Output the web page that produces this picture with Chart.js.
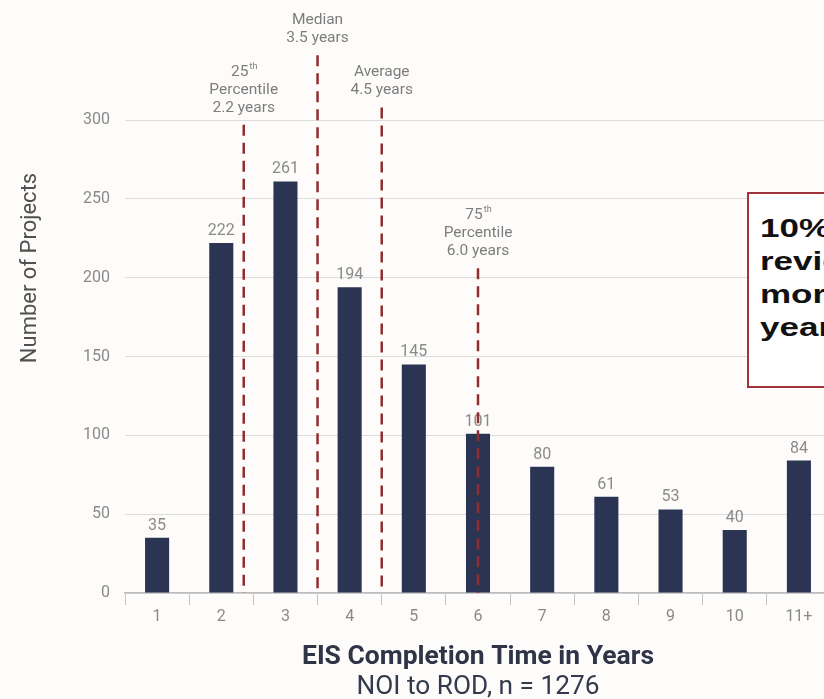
<!DOCTYPE html>
<html>
<head>
<meta charset="utf-8">
<title>EIS Completion Time</title>
<script src="https://cdn.jsdelivr.net/npm/chart.js@4.4.1/dist/chart.umd.min.js"></script>
<style>
  html, body { margin: 0; padding: 0; background: #fdfcfa; overflow: hidden; }
  #wrap { position: relative; width: 840px; height: 699px; }
  #note {
    position: absolute; left: 747px; top: 192px; width: 200px; height: 196px;
    box-sizing: border-box; border: 2px solid #a3333a; background: #fff;
    padding: 18px 0 0 11px; overflow: hidden;
  }
  #note span {
    display: block; white-space: nowrap; transform: scaleX(1.4); transform-origin: 0 0;
    font: bold 25px "Liberation Sans", Arial, sans-serif; line-height: 33px; color: #111;
  }
</style>
</head>
<body>
<div id="wrap">
  <canvas id="eisChart"></canvas>
  <div id="note"><span>10% of EIS<br>reviews took<br>more than 10<br>years</span></div>
</div>
<script>
// chart data
var yearLabels = ['1', '2', '3', '4', '5', '6', '7', '8', '9', '10', '11+'];
var projectCounts = [35, 222, 261, 194, 145, 101, 80, 61, 53, 40, 84];

// reference markers (position on the category scale, top of the dashed line in projects)
var markerNames = ['25th|Percentile', 'Median', 'Average', '75th|Percentile'];
var markerYears = ['2.2', '3.5', '4.5', '6.0'];
var markerAt = [1.35, 2.5, 3.5, 5.0];
var markerTop = [297, 341, 308, 206];

var xTitle = 'EIS Completion Time in Years';
var xSubtitle = 'NOI to ROD, n = 1276';
var yTitle = 'Number of Projects';

var BAR = '#2b3553';
var MARK = '#8f2d30';
var GREY = '#8a8a8a';

function fitText(ctx, text, cx, cy, width) {
    var w = ctx.measureText(text).width;
    ctx.save();
    ctx.translate(cx, cy);
    ctx.scale(width / w, 1);
    ctx.fillText(text, 0, 0);
    ctx.restore();
}

// "25th" -> 25 + raised th
function drawSup(ctx, text, cx, cy) {
    var m = /^(\d+)(th)$/.exec(text);
    if (!m) {
        ctx.fillText(text, cx, cy);
        return;
    }
    ctx.save();
    ctx.font = '15.5px Roboto';
    var wb = ctx.measureText(m[1]).width;
    ctx.font = '9px Roboto';
    var ws = ctx.measureText(m[2]).width;
    var left = cx - (wb + ws) / 2;
    ctx.textAlign = 'left';
    ctx.font = '15.5px Roboto';
    ctx.fillText(m[1], left, cy);
    ctx.font = '9px Roboto';
    ctx.fillText(m[2], left + wb + 1, cy - 5);
    ctx.restore();
}

var overlay = {
    id: 'overlay',
    afterDatasetsDraw: function (chart) {
        var ctx = chart.ctx;
        var x = chart.scales.x;
        var y = chart.scales.y;
        var meta = chart.getDatasetMeta(0);
        ctx.save();

        // value labels above bars
        ctx.font = '16px Roboto';
        ctx.fillStyle = GREY;
        ctx.textAlign = 'center';
        ctx.textBaseline = 'middle';
        meta.data.forEach(function (bar, i) {
            ctx.fillText(projectCounts[i], bar.x, bar.y - 12);
        });

        // dashed marker lines + labels
        for (var i = 0; i < markerAt.length; i++) {
            var px = x.getPixelForValue(markerAt[i]);
            var top = y.getPixelForValue(markerTop[i]);
            ctx.strokeStyle = MARK;
            ctx.lineWidth = 2.5;
            ctx.setLineDash([11, 7]);
            ctx.beginPath();
            ctx.moveTo(px, top);
            ctx.lineTo(px, y.getPixelForValue(0));
            ctx.stroke();

            var lines = markerNames[i].split('|').concat([markerYears[i] + ' years']);
            ctx.fillStyle = '#7d7d7d';
            ctx.font = '15.5px Roboto';
            for (var j = 0; j < lines.length; j++) {
                var ly = top - 17 - (lines.length - 1 - j) * 18;
                drawSup(ctx, lines[j], px, ly);
            }
        }
        ctx.setLineDash([]);

        // axis titles
        var cx = (x.left + x.right) / 2;
        ctx.fillStyle = '#2f3447';
        ctx.font = 'bold 25px Roboto';
        fitText(ctx, xTitle, cx, 658, 352);
        ctx.fillStyle = '#333a4d';
        ctx.font = '25px Roboto';
        fitText(ctx, xSubtitle, cx, 688, 243);

        ctx.translate(30, 268);
        ctx.rotate(-Math.PI / 2);
        ctx.fillStyle = '#505050';
        ctx.font = '22px Roboto';
        ctx.fillText(yTitle, 0, 0);
        ctx.restore();
    }
};

var ctx = document.getElementById('eisChart').getContext('2d');
var eisChart = new Chart(ctx, {
    type: 'bar',
    data: {
        labels: yearLabels,
        datasets: [{
            data: projectCounts,
            backgroundColor: BAR,
            categoryPercentage: 1,
            barPercentage: 0.375
        }]
    },
    options: {
        responsive: true,
        maintainAspectRatio: false,
        animation: false,
        events: [],
        layout: {padding: {top: 120, right: 9, bottom: 0, left: 0}},
        plugins: {
            legend: {display: false},
            tooltip: {enabled: false}
        },
        scales: {
            x: {
                afterFit: function (scale) { scale.height = 106; },
                grid: {drawOnChartArea: false, color: '#c4c4c4', tickLength: 12, offset: true},
                border: {color: '#bdbdbd', width: 1.5},
                ticks: {color: GREY, font: {family: 'Roboto', size: 16}, padding: 2}
            },
            y: {
                min: 0,
                max: 300,
                afterFit: function (scale) { scale.width = 125; },
                grid: {color: '#dcdcdc', drawTicks: false},
                border: {display: false},
                ticks: {stepSize: 50, color: GREY, font: {family: 'Roboto', size: 16}, padding: 15}
            }
        }
    },
    plugins: [overlay]
});
</script>
</body>
</html>
